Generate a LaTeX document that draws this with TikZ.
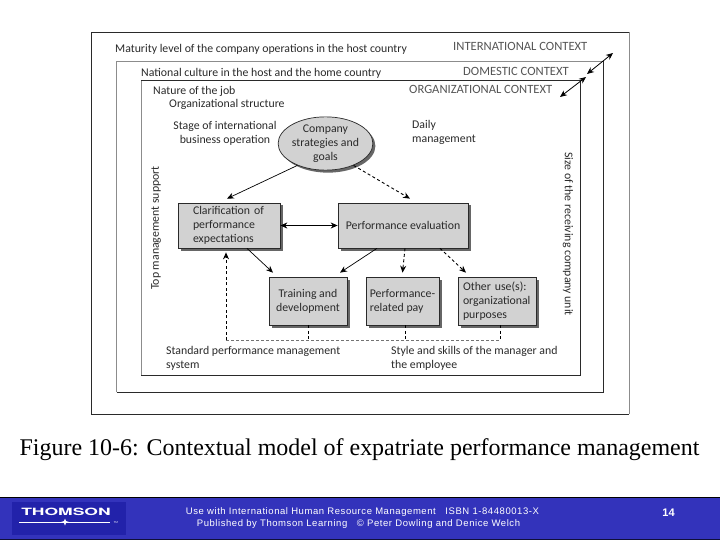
\documentclass[tikz,border=0pt]{standalone}
\usepackage{fontspec}
\setmainfont{Carlito}
\newfontfamily\capfont{Liberation Serif}
\newfontfamily\footfont[LetterSpace=6]{Liberation Sans}
\newfontfamily\numfont{Liberation Sans}
\newfontfamily\logofont{TeX Gyre Heros}
\usetikzlibrary{shapes.geometric,shadows,arrows.meta,calc}
\definecolor{ink}{HTML}{2A2A2A}
\definecolor{boxgray}{HTML}{D2D2D2}
\definecolor{band}{HTML}{3333BB}
\definecolor{logoblue}{HTML}{2222AA}
\tikzset{
  lbl/.style={anchor=base west,inner sep=0,text=ink,font=\fontsize{11.8}{14}\selectfont},
  upperlbl/.style={anchor=base west,inner sep=0,text=ink!80,font=\fontsize{12.6}{14}\selectfont},
  boxnode/.style={draw=ink,line width=.7pt,fill=boxgray,inner ysep=0,text=ink,
    font=\fontsize{11.8}{14}\selectfont,
    drop shadow={shadow xshift=2.5pt,shadow yshift=-2.5pt,fill=black!60,opacity=1}},
  solidarrow/.style={draw=black,line width=.7pt,-{Stealth[length=7pt,width=6pt]}},
  botharrow/.style={draw=black,line width=.8pt,{Stealth[length=7pt,width=6pt]}-{Stealth[length=7pt,width=6pt]}},
  dasharrow/.style={draw=black,line width=.9pt,dash pattern=on 3pt off 2.5pt,-{Stealth[length=7pt,width=6pt]}},
  dashstub/.style={draw=black,line width=.9pt,dash pattern=on 3pt off 2.5pt},
  thindash/.style={draw=black!55,line width=.5pt,dash pattern=on 3pt off 2pt},
  framedark/.style={draw=ink,line width=.9pt},
  framelight/.style={draw=black!45,line width=.8pt},
  footline/.style={inner sep=0,text=white,font=\footfont\fontsize{9.5}{11}\selectfont}
}
\begin{document}
\begin{tikzpicture}[x=1pt,y=-1pt]
\useasboundingbox (0,0) rectangle (720,540);
\fill[white] (0,0) rectangle (720,540);

% frames
\draw[framedark] (629,32) -- (91,32) -- (91,414) -- (629,414);
\draw[framelight] (629,32) -- (629,414);
\draw[framelight] (603,61) -- (116.5,61) -- (116.5,392);
\draw[framedark] (116.5,392) -- (603,392) -- (603,61);
\draw[framelight] (141,80) -- (141,375);
\draw[framedark] (141,80) -- (580,80) -- (580,375) -- (141,375);

% footer
\fill[band] (0,497) rectangle (720,540);
\draw[black,line width=.8pt] (0,497.5) -- (720,497.5);
\draw[black!70!band,line width=.8pt] (0,539.5) -- (720,539.5);
\fill[logoblue] (12,502) rectangle (126,535);
\node[anchor=base,inner sep=0,text=white,xscale=1.75,font=\logofont\bfseries\fontsize{10}{12}\selectfont] (logo) at (66,515.5) {THOMSON};
\draw[white,line width=.7pt] (19,522) -- (110,522);
\fill[white] (65,518.5) -- (66,521) -- (69,522) -- (66,523) -- (65,525.5) -- (64,523) -- (61,522) -- (64,521) -- cycle;
\node[inner sep=0,text=white,font=\fontsize{3}{3}\selectfont] (tm) at (116,522.5) {TM};
\node[footline] (foot1) at (362.5,512) {Use with International Human Resource Management\ \ \ ISBN 1-84480013-X};
\node[footline] (foot2) at (358.5,524.5) {Published by Thomson Learning\ \ \ © Peter Dowling and Denice Welch};
\node[inner sep=0,text=white,font=\numfont\bfseries\fontsize{11}{13}\selectfont] (pagenum) at (668.5,512.5) {14};

% caption
\node[anchor=base,inner sep=0,text=black,font=\capfont\fontsize{23.95}{26}\selectfont] (caption) at (359.5,455) {Figure 10-6: Contextual model of expatriate performance management};

% context labels
\node[lbl] (mat) at (115,53) {Maturity level of the company operations in the host country};
\node[lbl] (nat) at (141,77) {National culture in the host and the home country};
\node[lbl] (job) at (153,95) {Nature of the job};
\node[lbl] (org) at (169,108) {Organizational structure};
\node[lbl,align=center,anchor=base] (stage) at (225,144) {Stage of international\\business operation};
\node[lbl,align=left] (daily) at (412,143) {Daily\\management};
\node[upperlbl] (intl) at (453,51) {INTERNATIONAL CONTEXT};
\node[upperlbl] (dom) at (463,76) {DOMESTIC CONTEXT};
\node[upperlbl] (orgc) at (409,94) {ORGANIZATIONAL CONTEXT};
\node[lbl,anchor=center,rotate=90] (toplbl) at (156,228) {Top management support};
\node[lbl,anchor=center,rotate=-90] (size) at (568,234) {Size of the receiving company unit};
\node[lbl,align=left] (std) at (166,368) {Standard performance management\\system};
\node[lbl,align=left] (sty) at (391,368) {Style and skills of the manager and\\the employee};

% context arrows
\coordinate (ca) at (560,97);
\coordinate (cb) at (586,77);
\coordinate (cc) at (587,74);
\coordinate (cd) at (613,53);
\draw[botharrow] (ca) -- (cb);
\draw[botharrow] (cc) -- (cd);

% nodes
\node[ellipse,draw=ink,line width=.7pt,fill=boxgray,minimum width=85pt,minimum height=49pt,inner sep=0,
  align=center,text=ink,font=\fontsize{11.8}{14}\selectfont,
  drop shadow={shadow xshift=2.5pt,shadow yshift=-2.5pt,fill=black!60,opacity=1}]
  (goals) at (325.5,143.5) {Company\\strategies and\\goals};
\node[boxnode,minimum width=102pt,minimum height=45pt,inner xsep=15pt,text width=72pt,align=left] (clar) at (229,225.5) {Clarification of\\performance\\expectations};
\node[boxnode,minimum width=130pt,minimum height=45pt,inner xsep=4pt,align=center] (eval) at (403,225.5) {Performance evaluation};
\node[boxnode,minimum width=78pt,minimum height=48pt,inner xsep=2pt,align=center] (train) at (308,301) {Training and\\development};
\node[boxnode,minimum width=73pt,minimum height=48pt,inner xsep=0pt,align=left] (pay) at (402.5,301) {Performance-\\related pay};
\node[boxnode,minimum width=78pt,minimum height=48pt,inner xsep=5pt,text width=68pt,align=left] (other) at (497,301) {Other use(s):\\organizational\\purposes};

% connectors
\draw[solidarrow] (goals.-142) -- ([xshift=-2pt,yshift=4pt]clar.north);
\draw[dasharrow] (goals.-38) -- ([xshift=7pt,yshift=4pt]eval.north);
\draw[botharrow] (clar.east) -- (eval.west);
\draw[solidarrow] ([xshift=18pt]clar.south) -- ([xshift=-35pt,yshift=4pt]train.north);
\draw[solidarrow] ([xshift=-26pt]eval.south) -- ([xshift=32pt,yshift=4pt]train.north);
\draw[dasharrow] ([xshift=2pt]eval.south) -- ([yshift=4pt]pay.north);
\draw[dasharrow] ([xshift=37pt]eval.south) -- ([xshift=-31pt,yshift=4pt]other.north);
\coordinate (upfoot) at (226,340);
\coordinate (endfoot) at (500,340);
\draw[thindash] (upfoot) -- (endfoot);
\draw[dasharrow] (upfoot) -- ([xshift=-3pt,yshift=-4pt]clar.south);
\draw[dashstub] (train.south) -- (train.south |- upfoot);
\draw[dashstub] ([xshift=2.5pt]pay.south) -- ([xshift=2.5pt]pay.south |- upfoot);
\draw[dashstub] ([xshift=3pt]other.south) -- ([xshift=3pt]other.south |- upfoot);
\end{tikzpicture}
\end{document}
